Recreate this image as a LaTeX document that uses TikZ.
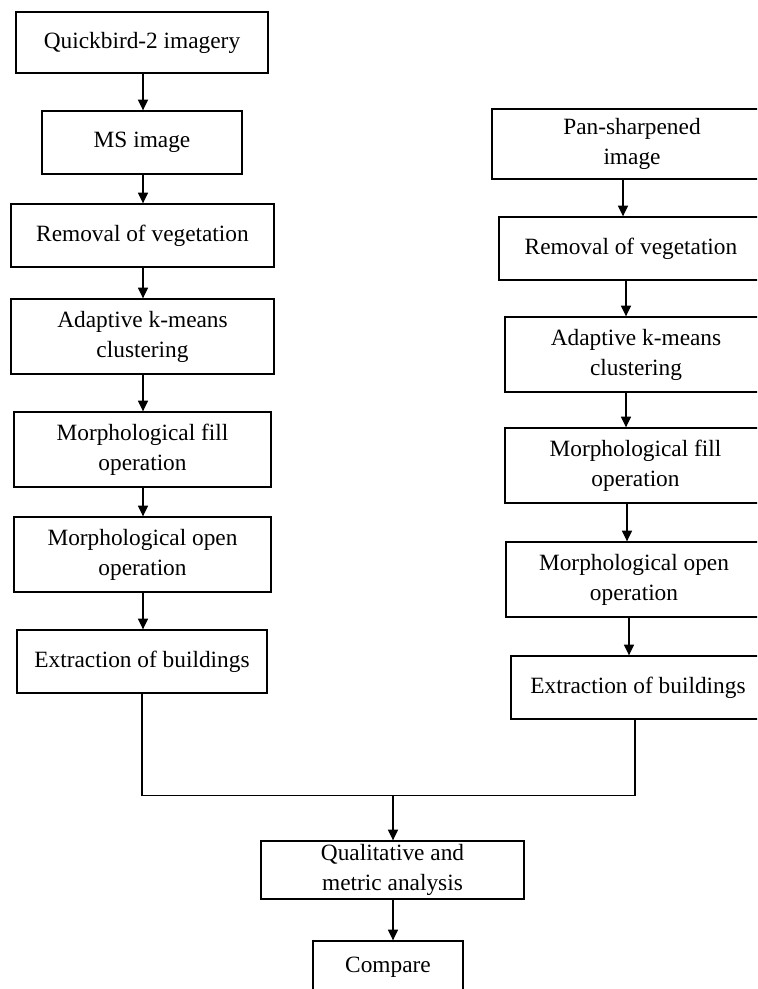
\documentclass[tikz,border=0pt]{standalone}
\usepackage{fontspec}
\setmainfont{Liberation Serif}
\usetikzlibrary{arrows.meta}
\begin{document}
\begin{tikzpicture}[x=0.75pt,y=-0.75pt,
  stepbox/.style={draw, line width=1pt, inner sep=0pt, align=center,
    font=\fontsize{17.5}{22.5}\selectfont},
  flow/.style={draw, line width=1pt, -{Triangle[length=8pt,width=7.5pt]}},
  link/.style={draw, line width=1pt}]
\useasboundingbox (0,0) rectangle (757,989);
\clip (0,0) rectangle (757,989);

% left branch: multispectral image
\node[stepbox, minimum width=189pt, minimum height=45.75pt] (q) at (142,42.5) {Quickbird-2 imagery};
\node[stepbox, minimum width=150pt, minimum height=47.25pt] (ms) at (142,142.5) {MS image};
\node[stepbox, minimum width=197.25pt, minimum height=47.25pt] (rem1) at (142.5,235.5) {Removal of vegetation};
\node[stepbox, minimum width=197.25pt, minimum height=56.25pt] (ad1) at (142.5,336.5) {Adaptive k-means\\clustering};
\node[stepbox, minimum width=192.75pt, minimum height=56.25pt] (fill1) at (142.5,449.5) {Morphological fill\\operation};
\node[stepbox, minimum width=192.75pt, minimum height=56.25pt] (open1) at (142.5,554.5) {Morphological open\\operation};
\node[stepbox, minimum width=187.5pt, minimum height=47.25pt] (ext1) at (142,661.5) {Extraction of buildings};

% right branch: pan-sharpened image
\node[stepbox, minimum width=210pt, minimum height=52.5pt] (pan) at (632,144) {Pan-sharpened\\image};
\node[stepbox, minimum width=198pt, minimum height=47.25pt] (rem2) at (631,248.5) {Removal of vegetation};
\node[stepbox, minimum width=196.5pt, minimum height=56.25pt] (ad2) at (636,354.5) {Adaptive k-means\\clustering};
\node[stepbox, minimum width=195.75pt, minimum height=56.25pt] (fill2) at (635.5,465.5) {Morphological fill\\operation};
\node[stepbox, minimum width=192pt, minimum height=56.25pt] (open2) at (634,579.5) {Morphological open\\operation};
\node[stepbox, minimum width=190.5pt, minimum height=47.25pt] (ext2) at (638,687.5) {Extraction of buildings};

% common steps
\node[stepbox, minimum width=197.25pt, minimum height=43.5pt] (qual) at (392.5,870) {Qualitative and\\metric analysis};
\node[stepbox, minimum width=112.5pt, minimum height=39pt] (cmp) at (388,967) {Compare};

% arrow columns
\coordinate (xa) at (143,0);
\coordinate (xr1) at (623,0);
\coordinate (xr2) at (626,0);
\coordinate (xr3) at (626,0);
\coordinate (xr4) at (627,0);
\coordinate (xr5) at (629,0);
\coordinate (jl) at (142,795.5);
\coordinate (jr) at (635,795.5);
\coordinate (jm) at (393,795.5);

\draw[flow] (q.south -| xa) -- (ms.north -| xa);
\draw[flow] (ms.south -| xa) -- (rem1.north -| xa);
\draw[flow] (rem1.south -| xa) -- (ad1.north -| xa);
\draw[flow] (ad1.south -| xa) -- (fill1.north -| xa);
\draw[flow] (fill1.south -| xa) -- (open1.north -| xa);
\draw[flow] (open1.south -| xa) -- (ext1.north -| xa);

\draw[flow] (pan.south -| xr1) -- (rem2.north -| xr1);
\draw[flow] (rem2.south -| xr2) -- (ad2.north -| xr2);
\draw[flow] (ad2.south -| xr3) -- (fill2.north -| xr3);
\draw[flow] (fill2.south -| xr4) -- (open2.north -| xr4);
\draw[flow] (open2.south -| xr5) -- (ext2.north -| xr5);

% merge of both branches
\draw[link] (ext1.south -| jl) -- (jl) -- (jr) -- (ext2.south -| jr);
\draw[flow] (jm) -- (qual.north -| jm);
\draw[flow] (qual.south -| jm) -- (cmp.north -| jm);
\end{tikzpicture}
\end{document}
